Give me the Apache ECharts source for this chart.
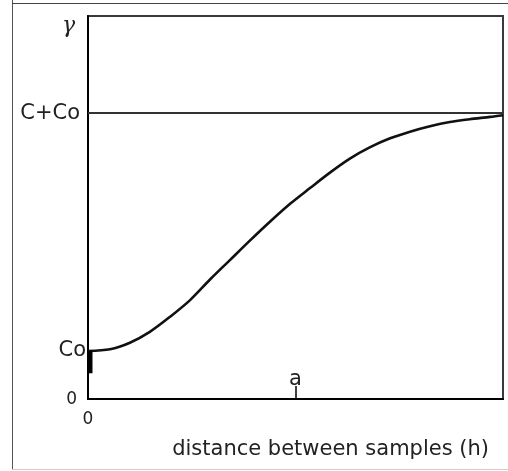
<!DOCTYPE html>
<html>
<head>
<meta charset="utf-8">
<script src="https://cdn.jsdelivr.net/npm/echarts@6/dist/echarts.min.js"></script>
<style>html,body{margin:0;padding:0;background:#fff}#c{width:508px;height:471px}</style>
</head>
<body>
<div id="c"></div>
<script>
// distance h (range a = 50), semivariance gamma (sill C+Co = 100)
var hValues = [0, 5.3, 10.1, 14.9, 19.8, 24.6, 29.4, 34.2, 39.0, 43.9, 48.7, 53.5, 58.3, 63.1, 68.0, 72.8, 77.6, 82.4, 87.2, 92.0, 96.9, 100];
var gammaValues = [16.8, 17.4, 19.7, 23.5, 28.8, 34.6, 41.8, 48.6, 55.4, 62.1, 68.3, 73.8, 79.2, 84.1, 88.1, 91.2, 93.5, 95.4, 96.9, 97.9, 98.7, 99.3];
var nuggetCo = 17;
var nuggetBase = 9;
var sill = 100;
var rangeA = 50;
var yTickValues = [0, 17, 100];
var yTickLabels = ['0', 'Co', 'C+Co'];
var xMax = 100, yMax = 134;

var curve = hValues.map(function (h, i) { return [h, gammaValues[i]]; });
var font = '"DejaVu Sans", sans-serif';
var chart = echarts.init(document.getElementById('c'), null, {renderer: 'canvas'});
chart.setOption({
  animation: false,
  backgroundColor: '#fff',
  title: [
    {text: 'γ', left: 57, top: 10, textStyle: {fontFamily: '"DejaVu Serif", serif', fontStyle: 'italic', fontWeight: 'normal', fontSize: 22, color: '#222'}},
    {text: 'distance between samples (h)', right: 14, top: 434, textStyle: {fontFamily: font, fontWeight: 'normal', fontSize: 21, color: '#222'}}
  ],
  graphic: [
    {type: 'line', shape: {x1: 12.5, y1: 0, x2: 12.5, y2: 469}, style: {stroke: '#555', lineWidth: 1}},
    {type: 'line', shape: {x1: 12, y1: 3.5, x2: 508, y2: 3.5}, style: {stroke: '#444', lineWidth: 1}},
    {type: 'line', shape: {x1: 12, y1: 469.5, x2: 508, y2: 469.5}, style: {stroke: '#ccc', lineWidth: 1}}
  ],
  grid: {left: 88, right: 5, top: 16, bottom: 72, show: true, borderColor: '#3a3a3a', borderWidth: 2, containLabel: false},
  xAxis: [
    {type: 'value', min: 0, max: xMax, position: 'bottom',
     axisLine: {show: true, lineStyle: {color: '#000', width: 2}},
     splitLine: {show: false}, axisTick: {show: false},
     axisLabel: {customValues: [0], formatter: function () { return '0'; }, margin: 12, fontFamily: font, fontSize: 17, color: '#222'}},
    {type: 'value', min: 0, max: xMax, position: 'bottom',
     axisLine: {show: false}, splitLine: {show: false},
     axisTick: {show: true, inside: true, length: 13, customValues: [rangeA], lineStyle: {color: '#000', width: 1.5}},
     axisLabel: {inside: true, customValues: [rangeA], formatter: function () { return 'a'; }, margin: 9, fontFamily: font, fontSize: 21, color: '#222'}}
  ],
  yAxis: {
    type: 'value', min: 0, max: yMax,
    axisLine: {show: true, lineStyle: {color: '#000', width: 2}},
    splitLine: {show: false}, axisTick: {show: false},
    axisLabel: {
      customValues: yTickValues, margin: 2,
      formatter: function (v) {
        var i = yTickValues.indexOf(v);
        var t = yTickLabels[i];
        if (t === '0') return '{z|0}';
        if (t === 'Co') return '{co|Co}';
        return '{s|C+Co}';
      },
      rich: {
        z: {fontFamily: font, fontSize: 17, color: '#222', padding: [2, 9, 0, 0]},
        co: {fontFamily: font, fontSize: 21, color: '#222', padding: [0, 0, 0, 0]},
        s: {fontFamily: font, fontSize: 21, color: '#222', padding: [0, 6, 0, 0]}
      }
    }
  },
  series: [
    {type: 'line', data: curve, smooth: 0.3, symbol: 'none', lineStyle: {color: '#111', width: 2.6},
     markLine: {silent: true, symbol: 'none', label: {show: false}, lineStyle: {color: '#333', width: 2, type: 'solid'},
       data: [{yAxis: sill}]}},
    {type: 'line', data: [[0.6, nuggetBase], [0.6, nuggetCo]], symbol: 'none', lineStyle: {color: '#000', width: 4}}
  ]
});
</script>
</body>
</html>
